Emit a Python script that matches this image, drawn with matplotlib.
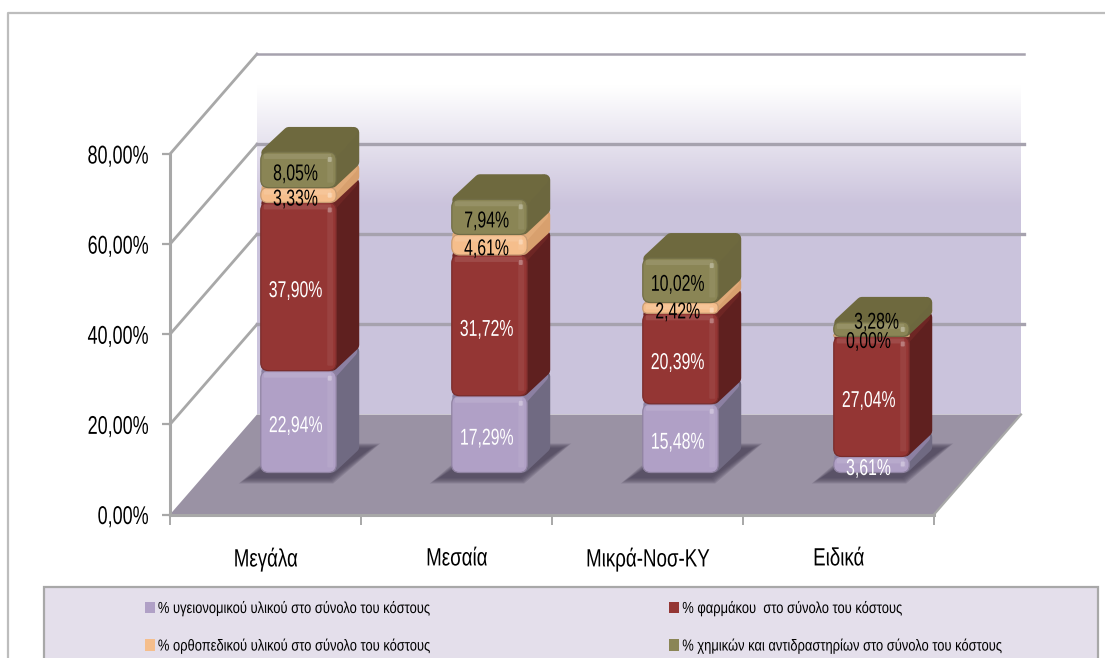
import matplotlib
matplotlib.use("Agg")
import matplotlib.pyplot as plt
import numpy as np
from matplotlib.lines import Line2D
from matplotlib.patches import FancyBboxPatch, Polygon, Rectangle, Patch
from matplotlib.patheffects import AbstractPathEffect
from matplotlib.transforms import Affine2D, IdentityTransform

plt.rcParams['font.family'] = ['Liberation Sans', 'DejaVu Sans']

categories = ['Μεγάλα', 'Μεσαία', 'Μικρά-Νοσ-ΚΥ', 'Ειδικά']
series_names = ['% υγειονομικού υλικού στο σύνολο του κόστους',
                '% φαρμάκου  στο σύνολο του κόστους',
                '% ορθοπεδικού υλικού στο σύνολο του κόστους',
                '% χημικών και αντιδραστηρίων στο σύνολο του κόστους']
sanitary = [22.94, 17.29, 15.48, 3.61]
pharma = [37.90, 31.72, 20.39, 27.04]
ortho = [3.33, 4.61, 2.42, 0.00]
chemical = [8.05, 7.94, 10.02, 3.28]
y_ticks = [0, 20, 40, 60, 80]


class Squeeze(AbstractPathEffect):
    """Draw a text narrower, around its left, centre or right end."""

    def __init__(self, sx, anchor='center'):
        super().__init__()
        self.sx, self.anchor = sx, anchor

    def draw_path(self, renderer, gc, tpath, affine, rgbFace=None):
        ext = tpath.get_extents(affine)
        ax_ = {'left': ext.x0, 'center': (ext.x0 + ext.x1) / 2, 'right': ext.x1}[self.anchor]
        tr = affine + Affine2D().translate(-ax_, 0).scale(self.sx, 1).translate(ax_, 0)
        renderer.draw_path(gc, tpath, tr, rgbFace)


W, H = 1105, 658
fig = plt.figure(figsize=(W / 100, H / 100), dpi=100, facecolor='white')
ax = fig.add_axes([170 / W, (H - 514.5) / H, (934 - 170) / W, (514.5 - 154) / H])
ax.patch.set_visible(False)

GRAY = '#A8A8A8'
wall_dx, wall_dy = 87, 100
bar_plane_dx, bar_plane_dy = 33, 42
bar_depth_dx, bar_depth_dy = 23, 25
bar_width = 0.395
axis_base = H - 514.5

back = ax.transData + Affine2D().translate(wall_dx, wall_dy)
bar_plane = ax.transData + Affine2D().translate(bar_plane_dx, -axis_base).scale(1, 0.985).translate(0, axis_base + bar_plane_dy)
px = IdentityTransform()

# back wall gradient
stops_y = np.linspace(0, 1, 256)
top_col, low_col = np.array([1, 1, 1.0]), np.array([0.796, 0.765, 0.863])
mix = np.clip((stops_y - 0.09) / 0.33, 0, 1)[:, None, None]
grad = top_col[None, None, :] * (1 - mix) + low_col[None, None, :] * mix
ax.imshow(grad, extent=(0, 4, 0, 80), transform=back, aspect='auto', zorder=0.1,
          clip_on=False, interpolation='bilinear')
ax.set_xlim(0, 4)
ax.set_ylim(0, 80)

# floor
p00, p40 = ax.transData.transform([(0, 0), (4, 0)])
b00, b40 = back.transform([(0, 0), (4, 0)])
ax.add_patch(Polygon([p00, p40, b40, b00], closed=True, transform=px, fc='#9A92A4', ec='none',
                     zorder=0.2, clip_on=False))
ax.add_line(Line2D([p40[0], b40[0]], [p40[1], b40[1]], transform=px, color=GRAY, lw=1.6,
                   zorder=0.3, clip_on=False))

# grid on the back and side walls
for t in y_ticks[1:]:
    a = ax.transData.transform((0, t))
    b = back.transform((0, t))
    c = back.transform((4, t))
    lw = 1.8 if t == 80 else 2.4
    ax.add_line(Line2D([a[0], b[0]], [a[1], b[1]], transform=px, color=GRAY, lw=2.0,
                       zorder=0.3, clip_on=False))
    ax.add_line(Line2D([b[0], c[0] + 3], [b[1], c[1]], transform=px, color='#A6A2AE', lw=lw,
                       zorder=0.3, clip_on=False))


def shade(col, f):
    c = np.array(matplotlib.colors.to_rgb(col))
    return tuple(np.clip(c * f if f < 1 else c + (1 - c) * (f - 1), 0, 1))


front_cols = ['#B0A0C6', '#943634', '#F5BE8C', '#8A8555']
side_cols = ['#706A82', '#5F201F', '#D8A06E', '#6C673E']
top_cols = ['#8C80A2', '#6E2624', '#E0AA78', '#6E693E']
stack_values = [sanitary, pharma, ortho, chemical]
text_cols = ['white', 'white', 'black', 'black']
label_nudge = {(3, 3): (8, 11), (3, 2): (0, -1)}
z = 1.0

for i in range(len(categories)):
    xc = i + 0.5
    x0, y_base = bar_plane.transform((xc - bar_width / 2, 0))
    x1, _ = bar_plane.transform((xc + bar_width / 2, 0))
    # soft floor shadow
    for k in range(7):
        g = (6 - k) * 1.6
        ax.add_patch(Polygon([(x0 - 22 + g, y_base - 11 + g * 0.6), (x1 - 3 - g * 0.4, y_base - 11 + g * 0.6),
                              (x1 + 44 - g, y_base + 29 - g * 0.5), (x0 + 25 + g, y_base + 29 - g * 0.5)],
                             transform=px, fc='#4A4258', ec='none', alpha=0.2, zorder=z, clip_on=False))
    z += 0.01
    bottom = 0.0
    for s, vals in enumerate(stack_values):
        v = vals[i]
        _, y0 = bar_plane.transform((xc, bottom))
        _, y1 = bar_plane.transform((xc, bottom + v))
        h = y1 - y0
        if v == 0:
            h = 2.0
            y1 = y0 + h
        r = min(8, max(h / 2 - 0.5, 0.8))
        ins = min(5.5, max(h / 2 - 1, 0.5))
        lw = ins * 2 * 0.72
        # side face
        ax.add_patch(Polygon([(x1 - 4, y0 + ins), (x1 + bar_depth_dx - ins, y0 + bar_depth_dy - 1 + ins * 0.3),
                              (x1 + bar_depth_dx - ins, y1 + bar_depth_dy - ins), (x1 - 4, y1 - ins)],
                             transform=px, fc=side_cols[s], ec=side_cols[s], lw=lw, joinstyle='round',
                             zorder=z, clip_on=False))
        # top face
        ax.add_patch(Polygon([(x0 + 6, y1 - 1), (x1 - 3, y1 - 1), (x1 + bar_depth_dx - 2 - ins, y1 + bar_depth_dy - ins),
                              (x0 + bar_depth_dx + 5, y1 + bar_depth_dy - ins)],
                             transform=px, fc=top_cols[s], ec=top_cols[s], lw=lw, joinstyle='round',
                             zorder=z + 0.001, clip_on=False))
        # rounded front
        ax.add_patch(FancyBboxPatch((x0 + r, y0 + r), (x1 - x0) - 2 * r, max(h - 2 * r, 0.01),
                                    boxstyle=f'round,pad={r},rounding_size={r}', transform=px,
                                    fc=front_cols[s], ec=shade(front_cols[s], 0.82), lw=0.9,
                                    zorder=z + 0.002, clip_on=False))
        # bevel highlights
        if h > 10:
            ax.add_patch(FancyBboxPatch((x0 + 4, y1 - 6), x1 - x0 - 10, 3,
                                        boxstyle='round,pad=1,rounding_size=1', transform=px,
                                        fc=shade(front_cols[s], 1.1), ec='none', zorder=z + 0.003, clip_on=False))
            ax.add_patch(FancyBboxPatch((x1 - 8, y0 + 6), 4, max(h - 12, 0.5),
                                        boxstyle='round,pad=1,rounding_size=1', transform=px,
                                        fc=shade(front_cols[s], 1.06), ec='none', zorder=z + 0.003, clip_on=False))
            ax.add_patch(FancyBboxPatch((x1 - 7.5, y1 - 9), 2, 3,
                                        boxstyle='round,pad=1,rounding_size=1', transform=px,
                                        fc=shade(front_cols[s], 1.35), ec='none', zorder=z + 0.004, clip_on=False))
        z += 0.01
        bottom += v

# data labels on top of everything
for i in range(len(categories)):
    xc = i + 0.5
    bottom = 0.0
    for s, vals in enumerate(stack_values):
        v = vals[i]
        x, y = bar_plane.transform((xc, bottom + v / 2))
        ndx, ndy = label_nudge.get((i, s), (0, 0))
        ax.text(x - 3 + ndx, y - 4 + ndy, f'{v:.2f}%'.replace('.', ','), transform=px,
                ha='center', va='center', color=text_cols[s], fontsize=16.5, zorder=20, clip_on=False,
                path_effects=[Squeeze(0.69)])
        bottom += v

# axes furniture
for sp in ('top', 'right'):
    ax.spines[sp].set_visible(False)
for sp in ('left', 'bottom'):
    ax.spines[sp].set_color(GRAY)
    ax.spines[sp].set_linewidth(2.2)
ax.set_yticks(y_ticks, [f'{t:.2f}%'.replace('.', ',') for t in y_ticks])
ax.set_xticks([0, 1, 2, 3, 4], [''] * 5)
ax.set_xticks([i + 0.5 for i in range(4)], categories, minor=True)
ax.tick_params(axis='y', length=6, width=1.6, color=GRAY, labelsize=18.5, pad=9)
ax.tick_params(axis='x', which='major', length=7, width=1.4, color=GRAY)
ax.tick_params(axis='x', which='minor', length=0, labelsize=18, pad=23)
for t in ax.get_yticklabels():
    t.set_path_effects([Squeeze(0.7, 'right')])
for t in ax.get_xticklabels(minor=True):
    t.set_path_effects([Squeeze(0.75)])

# outer frame (bottom and right are cropped in the source)
to_px = Affine2D().scale(1, -1).translate(0, H)
fig.add_artist(Line2D([8, 8, W], [H, 12.5, 12.5], transform=to_px, color='#BDBDBD', lw=1.6))
fig.add_artist(Rectangle((43.5, 587), 1098 - 43.5, 90, transform=to_px, fc='#E4DFEB', ec='#A8A8A8', lw=1.6))

# legend
handles = [Patch(fc=front_cols[0], ec='none'), Patch(fc=front_cols[2], ec='none'),
           Patch(fc=front_cols[1], ec='none'), Patch(fc=front_cols[3], ec='none')]
labels = [series_names[0], series_names[2], series_names[1], series_names[3]]
leg = fig.legend(handles, labels, ncol=2, loc='upper left', bbox_to_anchor=(145 / W, (H - 600) / H),
                 bbox_transform=fig.transFigure, frameon=False, fontsize=11.5, handlelength=0.6, handleheight=0.75,
                 handletextpad=0.2, labelspacing=1.35, columnspacing=10.9, borderpad=0, borderaxespad=0)
for t in leg.get_texts():
    t.set_path_effects([Squeeze(0.81, 'left')])

fig.savefig('out.png', dpi=100)
